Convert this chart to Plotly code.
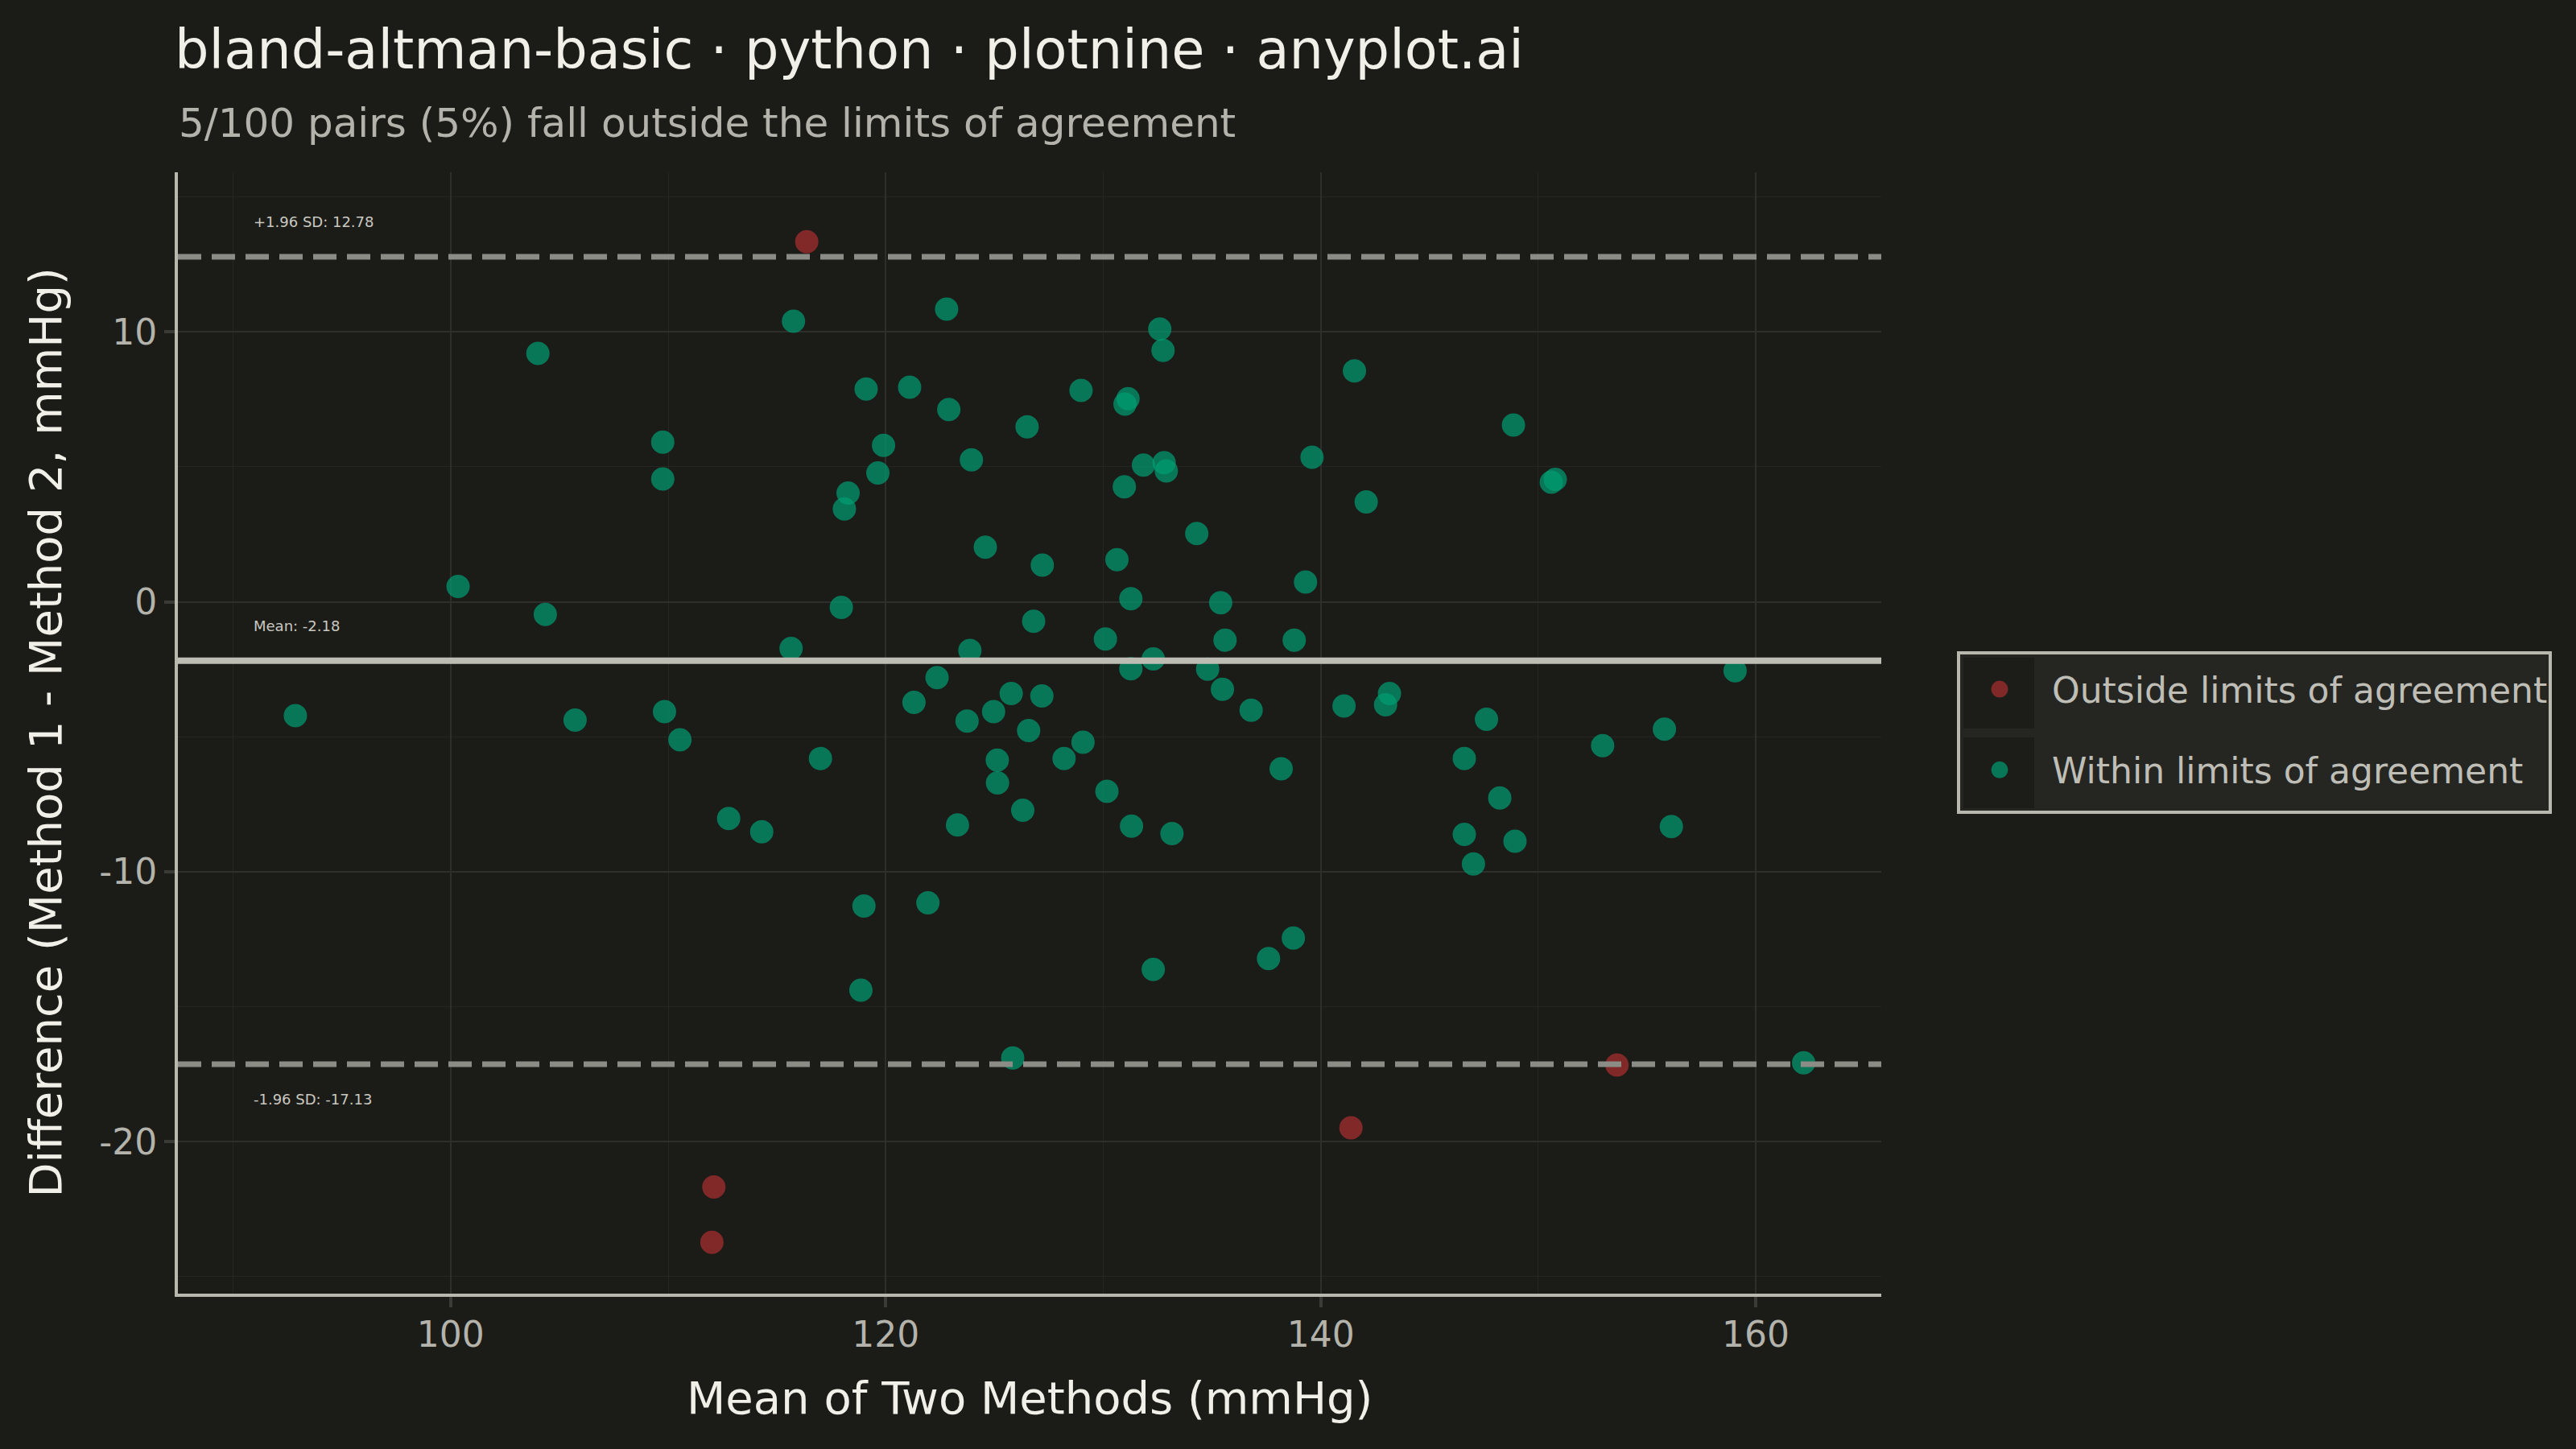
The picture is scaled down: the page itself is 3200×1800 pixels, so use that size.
import plotly.graph_objects as go

# ---------------- data ----------------
within_mean = [
    92.86, 100.34, 104.01, 104.35, 105.72, 109.75, 109.75, 109.83, 110.54, 112.78,
    114.3, 115.65, 115.76, 117.0, 117.96, 118.1, 118.27, 119.1, 119.0, 118.86,
    119.64, 119.9, 121.1, 121.3, 121.94, 122.36, 122.8, 122.9, 123.3, 123.74,
    123.87, 123.94, 124.58, 124.96, 125.13, 125.14, 125.77, 125.84, 126.3, 126.5,
    126.57, 126.8, 127.2, 127.18, 128.2, 128.98, 129.07, 130.1, 130.17, 130.63,
    131.0, 131.14, 130.97, 131.27, 131.27, 131.3, 131.85, 132.3, 132.3, 132.6,
    132.75, 132.8, 132.9, 133.16, 134.3, 134.8, 135.4, 135.48, 135.6, 136.8,
    137.6, 138.18, 138.78, 138.74, 139.3, 139.6, 141.07, 141.55, 142.09, 142.98,
    143.16, 146.6, 146.6, 147.02, 147.62, 148.23, 148.86, 148.93, 150.6, 150.78,
    152.96, 155.8, 156.12, 159.05, 162.2,
]
within_diff = [
    -4.22, 0.57, 9.2, -0.47, -4.38, 5.91, 4.55, -4.07, -5.11, -8.03,
    -8.52, -1.73, 10.39, -5.81, -0.21, 3.44, 4.03, 7.88, -11.27, -14.39,
    4.77, 5.79, 7.95, -3.73, -11.15, -2.81, 10.84, 7.12, -8.27, -4.42,
    -1.80, 5.26, 2.02, -4.07, -5.87, -6.71, -3.40, -16.9, -7.72, 6.48,
    -4.77, -0.72, 1.36, -3.49, -5.81, 7.83, -5.2, -1.38, -7.02, 1.56,
    7.32, 7.52, 4.26, 0.11, -2.48, -8.31, 5.06, -2.12, -13.62, 10.1,
    9.31, 5.15, 4.85, -8.59, 2.53, -2.5, -0.04, -3.24, -1.42, -4.02,
    -13.22, -6.19, -1.42, -12.46, 0.73, 5.35, -3.86, 8.55, 3.70, -3.82,
    -3.40, -5.81, -8.62, -9.71, -4.35, -7.27, 6.55, -8.87, 4.43, 4.53,
    -5.33, -4.72, -8.33, -2.56, -17.08,
]
outside_mean = [116.37, 112.1, 112.01, 141.39, 153.62]
outside_diff = [13.34, -21.68, -23.73, -19.49, -17.16]

mean_diff = -2.18
upper_loa = 12.78
lower_loa = -17.13

series_names = ["Outside limits of agreement", "Within limits of agreement"]
x_ticks = [100, 120, 140, 160]
x_tick_labels = ["100", "120", "140", "160"]
x_minor = [90, 110, 130, 150]
y_ticks = [-20, -10, 0, 10]
y_tick_labels = ["-20", "-10", "0", "10"]
y_minor = [-25, -15, -5, 5, 15]

title_text = "bland-altman-basic · python · plotnine · anyplot.ai"
subtitle_text = "5/100 pairs (5%) fall outside the limits of agreement"
x_title = "Mean of Two Methods (mmHg)"
y_title = "Difference (Method 1 - Method 2, mmHg)"

# ---------------- style ----------------
W, H = 3200, 1800
ML, MR, MT, MB = 221, 863, 214, 193
BG = "#1B1B18"
FONT = "DejaVu Sans"
GREEN = "#009E73"
RED = "#AB2F2F"
TICK_C = "#B3B2AB"
TITLE_C = "#F0EFE8"
AXIS_C = "#B8B8AE"

pw = W - ML - MR
ph = H - MT - MB


def px_x(px):
    return (px - ML) / pw


def px_y(py):
    return (H - MB - py) / ph


fig = go.Figure()

fig.add_trace(go.Scatter(
    x=outside_mean, y=outside_diff, mode="markers", name=series_names[0],
    legendgroup="out",
    marker=dict(size=24, color=RED, opacity=0.7, line=dict(color=RED, width=5)),
))
fig.add_trace(go.Scatter(
    x=within_mean, y=within_diff, mode="markers", name=series_names[1],
    legendgroup="in",
    marker=dict(size=24, color=GREEN, opacity=0.7, line=dict(color=GREEN, width=5)),
))

# reference lines
fig.add_shape(type="line", xref="paper", yref="y", x0=0, x1=1, y0=upper_loa, y1=upper_loa,
              line=dict(color="#8C8C86", width=7, dash="29px,13px"), layer="above")
fig.add_shape(type="line", xref="paper", yref="y", x0=0, x1=1, y0=lower_loa, y1=lower_loa,
              line=dict(color="#8C8C86", width=7, dash="29px,13px"), layer="above")
fig.add_shape(type="line", xref="paper", yref="y", x0=0, x1=1, y0=mean_diff, y1=mean_diff,
              line=dict(color="#BDBDB3", width=8), layer="above")

label_x = 90.85
label_off = 1.3
for yv, txt in [(upper_loa + label_off, f"+1.96 SD: {upper_loa:.2f}"),
                (mean_diff + label_off, f"Mean: {mean_diff:.2f}"),
                (lower_loa - label_off, f"-1.96 SD: {lower_loa:.2f}")]:
    fig.add_annotation(x=label_x, y=yv, xref="x", yref="y", text=txt, showarrow=False,
                       xanchor="left", yanchor="middle",
                       font=dict(family=FONT, size=18, color="#C9C8C0"))

# legend frame and key backgrounds
fig.add_shape(type="rect", xref="paper", yref="paper",
              x0=px_x(2433), x1=px_x(3168), y0=px_y(1009), y1=px_y(811),
              fillcolor="#252522", line=dict(color=AXIS_C, width=4), layer="below")
for top, bot in [(817, 905), (916, 1004)]:
    fig.add_shape(type="rect", xref="paper", yref="paper",
                  x0=px_x(2439), x1=px_x(2527), y0=px_y(bot), y1=px_y(top),
                  fillcolor="#1C1C19", line=dict(width=0), layer="below")

# title, subtitle, axis titles
fig.add_annotation(x=px_x(220), y=px_y(153), xref="paper", yref="paper", text=subtitle_text,
                   showarrow=False, xanchor="left", yanchor="middle",
                   font=dict(family=FONT, size=50, color=TICK_C))
fig.add_annotation(x=0.5, y=px_y(1736), xref="paper", yref="paper", text=x_title,
                   showarrow=False, xanchor="center", yanchor="middle",
                   font=dict(family=FONT, size=56, color=TITLE_C))
fig.add_annotation(x=px_x(56), y=0.5, xref="paper", yref="paper", text=y_title,
                   showarrow=False, xanchor="center", yanchor="middle", textangle=-90,
                   font=dict(family=FONT, size=56, color=TITLE_C))

fig.update_layout(
    width=W, height=H,
    margin=dict(l=ML, r=MR, t=MT, b=MB, pad=0),
    paper_bgcolor=BG, plot_bgcolor=BG,
    font=dict(family=FONT, color=TICK_C),
    title=dict(text=title_text, x=217 / W, xref="container", xanchor="left",
               y=1 - 62 / H, yref="container", yanchor="middle",
               font=dict(family=FONT, size=67, color=TITLE_C)),
    showlegend=True,
    legend=dict(x=px_x(2419), y=px_y(821), xanchor="left", yanchor="top",
                bgcolor="rgba(0,0,0,0)", borderwidth=0, itemwidth=120,
                tracegroupgap=40, traceorder="grouped",
                font=dict(family=FONT, size=44, color="#BFBEB6")),
    xaxis=dict(range=[87.46, 165.77], tickvals=x_ticks, ticktext=x_tick_labels,
               showline=True, linecolor=AXIS_C, linewidth=4, mirror=False,
               ticks="outside", ticklen=13, tickwidth=4, tickcolor="#3A3A37",
               ticklabelstandoff=-4,
               showgrid=True, gridcolor="#2E2E2B", gridwidth=2, zeroline=False,
               tickfont=dict(family=FONT, size=44, color=TICK_C),
               minor=dict(tickvals=x_minor, showgrid=True, gridcolor="#252522", gridwidth=1, ticks="")),
    yaxis=dict(range=[-25.63, 15.91], tickvals=y_ticks, ticktext=y_tick_labels,
               showline=True, linecolor=AXIS_C, linewidth=4, mirror=False,
               ticks="outside", ticklen=13, tickwidth=4, tickcolor="#3A3A37",
               showgrid=True, gridcolor="#2E2E2B", gridwidth=2, zeroline=False,
               tickfont=dict(family=FONT, size=44, color=TICK_C),
               minor=dict(tickvals=y_minor, showgrid=True, gridcolor="#252522", gridwidth=1, ticks="")),
)

fig.write_html(
    "out.html",
    config={"displayModeBar": False},
    post_script="document.body.style.margin='0';document.body.style.background='#1B1B18';",
)
